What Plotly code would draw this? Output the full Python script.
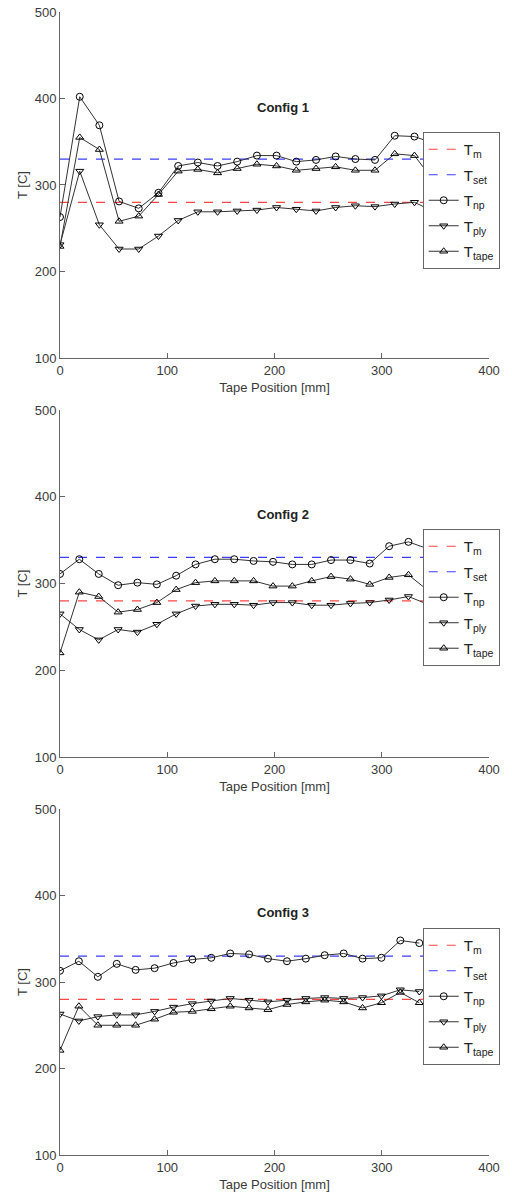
import plotly.graph_objects as go

# ---------------- data ----------------
x1 = [0, 18.4, 36.7, 55.1, 73.4, 91.8, 110.2, 128.5, 146.9, 165.2, 183.6, 201.9, 220.3, 238.7, 257, 275.4, 293.7, 312.1, 330.5, 348.8]
np1 = [263, 402, 369, 281, 273, 291, 322, 326, 322, 327, 334, 334, 327, 329, 333, 330, 329, 357, 356, 348]
ply1 = [231, 316, 254, 226, 226, 241, 259, 269, 269, 270, 271, 274, 272, 270, 274, 276, 275, 278, 280, 269]
tape1 = [229, 355, 341, 258, 264, 289, 316, 318, 314, 319, 324, 322, 317, 319, 321, 317, 317, 336, 334, 304]

x2 = [0, 18, 36.1, 54.2, 72.2, 90.3, 108.3, 126.4, 144.4, 162.5, 180.5, 198.6, 216.6, 234.7, 252.7, 270.8, 288.8, 306.9, 324.9, 343]
np2 = [311, 328, 311, 298, 301, 299, 309, 322, 328, 328, 326, 325, 322, 322, 327, 327, 323, 343, 348, 340]
ply2 = [265, 247, 235, 247, 244, 253, 265, 274, 276, 276, 275, 278, 278, 275, 275, 277, 278, 281, 285, 276]
tape2 = [220, 290, 285, 267, 270, 278, 293, 301, 303, 303, 303, 297, 297, 303, 308, 305, 299, 307, 310, 292]

x3 = [0, 17.6, 35.3, 52.9, 70.5, 88.2, 105.8, 123.4, 141, 158.7, 176.3, 193.9, 211.6, 229.2, 246.8, 264.5, 282.1, 299.7, 317.3, 335]
np3 = [313, 324, 306, 321, 314, 316, 322, 326, 328, 333, 332, 327, 324, 327, 331, 333, 327, 328, 348, 345]
ply3 = [263, 255, 260, 262, 262, 266, 271, 275, 278, 281, 279, 277, 279, 281, 282, 281, 282, 284, 291, 289]
tape3 = [221, 272, 250, 250, 250, 257, 265, 266, 269, 272, 270, 268, 274, 277, 279, 277, 270, 276, 288, 276]

T_m = 280
T_set = 330
x_span = [0, 400]
titles = ["Config 1", "Config 2", "Config 3"]
x_ticks = [0, 100, 200, 300, 400]
y_ticks = [100, 200, 300, 400, 500]

configs = [(x1, np1, ply1, tape1), (x2, np2, ply2, tape2), (x3, np3, ply3, tape3)]

# ---------------- layout geometry ----------------
domains = [[0.6973, 1.0], [0.3482, 0.6518], [0.0, 0.3027]]
legend_tops = [0.895, 0.5477, 0.1986]
title_y = [390, 379, 380]

FONT = "Liberation Sans, Arial, Helvetica, sans-serif"
GRAY = "#3a3a3a"

fig = go.Figure()

for k, (xs, tnp, tply, ttape) in enumerate(configs):
    sfx = "" if k == 0 else str(k + 1)
    xa, ya = "x" + sfx, "y" + sfx
    leg = "legend" + sfx
    fig.add_trace(go.Scatter(x=x_span, y=[T_m, T_m], mode="lines", name="T<sub>m</sub>",
                             line=dict(color="rgb(255,70,70)", dash="dash", width=1.2),
                             xaxis=xa, yaxis=ya, legend=leg, legendgroup=f"g{k}a"))
    fig.add_trace(go.Scatter(x=x_span, y=[T_set, T_set], mode="lines", name="T<sub>set</sub>",
                             line=dict(color="rgb(60,60,255)", dash="dash", width=1.2),
                             xaxis=xa, yaxis=ya, legend=leg, legendgroup=f"g{k}b"))
    for j, (ys, sym, nm) in enumerate([(tnp, "circle-open", "T<sub>np</sub>"),
                                       (tply, "triangle-down-open", "T<sub>ply</sub>"),
                                       (ttape, "triangle-up-open", "T<sub>tape</sub>")]):
        fig.add_trace(go.Scatter(x=xs, y=ys, mode="lines+markers", name=nm,
                                 line=dict(color="#333", width=1),
                                 marker=dict(symbol=sym, size=7, color="black",
                                             line=dict(color="black", width=1)),
                                 xaxis=xa, yaxis=ya, legend=leg, legendgroup=f"g{k}c{j}"))

    axis_common = dict(showline=True, linecolor="#666", linewidth=1, ticks="inside",
                       ticklen=5, tickcolor="#666", showgrid=False, zeroline=False,
                       automargin=False, ticklabeloverflow="allow",
                       tickfont=dict(family=FONT, size=13, color=GRAY), mirror=False)
    fig.update_layout(**{
        "xaxis" + sfx: dict(axis_common, range=[0, 400], tickvals=x_ticks, anchor=ya,
                            title=dict(text="Tape Position [mm]", standoff=6,
                                       font=dict(family=FONT, size=13, color=GRAY))),
        "yaxis" + sfx: dict(axis_common, range=[100, 500], tickvals=y_ticks, anchor=xa,
                            domain=domains[k],
                            title=dict(text="T [C]", standoff=4,
                                       font=dict(family=FONT, size=13, color=GRAY))),
        leg: dict(x=1.025, y=legend_tops[k], xanchor="right", yanchor="top",
                  bgcolor="white", bordercolor="#666", borderwidth=1,
                  font=dict(family=FONT, size=15, color="#222"),
                  itemwidth=30, tracegroupgap=3),
    })
    fig.add_annotation(x=208, y=title_y[k], xref=xa, yref=ya, text="<b>" + titles[k] + "</b>",
                       showarrow=False, font=dict(family=FONT, size=13, color="#222"))

fig.update_layout(width=512, height=1194, margin=dict(l=60, r=12, t=12, b=39),
                  plot_bgcolor="white", paper_bgcolor="white", showlegend=True)

# remove the default page margin so the figure sits at the window origin
fig.write_html("out.html", config={"displayModeBar": False},
               post_script="document.body.style.margin='0';document.body.style.overflow='hidden';")
